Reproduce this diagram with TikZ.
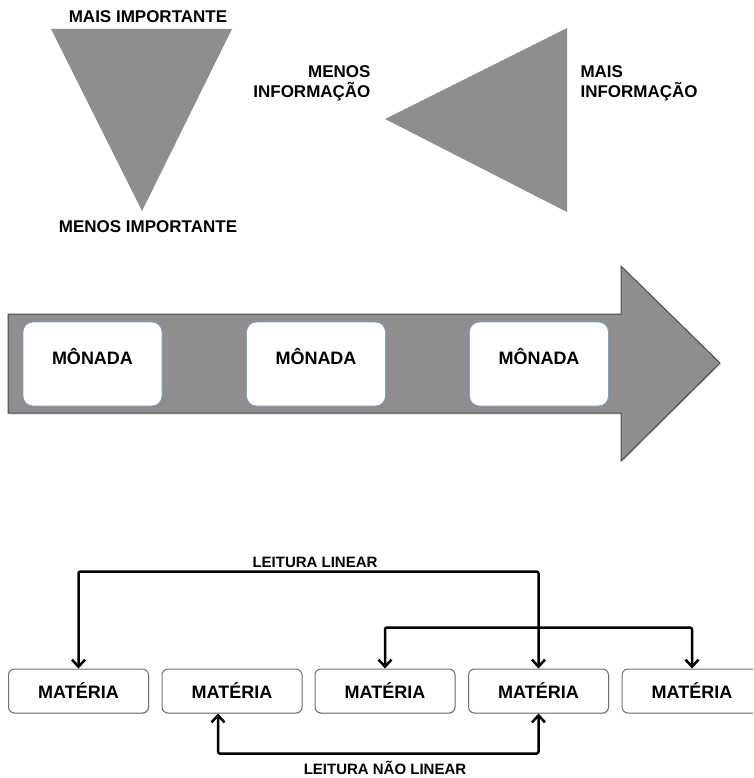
\documentclass[tikz,border=0pt]{standalone}
\usepackage{fontspec}
\setmainfont{Liberation Sans}
\usetikzlibrary{arrows.meta,shadows}

\definecolor{cinzaseta}{HTML}{8E8E8E}
\definecolor{bordaseta}{HTML}{4A4A4A}
\definecolor{bordamonada}{HTML}{7FA4CC}
\definecolor{bordamateria}{HTML}{707070}

\tikzset{
  rotulo/.style={font=\bfseries\fontsize{17}{20}\selectfont, align=center},
  rotulomenor/.style={font=\bfseries\fontsize{15}{18}\selectfont},
  monada/.style={draw=bordamonada, line width=0.8pt, fill=white, rounded corners=10pt,
    minimum width=139pt, minimum height=84pt, text height=13pt, text depth=12pt,
    font=\bfseries\fontsize{18}{20}\selectfont,
    drop shadow={shadow xshift=1pt, shadow yshift=-1.5pt, opacity=0.35}},
  materia/.style={draw=bordamateria, line width=1pt, fill=white, rounded corners=6pt,
    minimum width=140pt, minimum height=44pt, font=\bfseries\fontsize{18}{20}\selectfont,
    drop shadow={shadow xshift=0.8pt, shadow yshift=-1pt, opacity=0.25}},
  conector/.style={line width=2.5pt, rounded corners=2pt, line cap=round}
}

\begin{document}
\begin{tikzpicture}[x=1pt, y=-1pt, >={Straight Barb[length=7pt, width=13pt]}]
    % 1. Limites da figura
    \clip (0,0) rectangle (753,778);

    % 2. Triangulos
    \fill[cinzaseta] (51,29) -- (232,29) -- (142,211) -- cycle;
    \node[rotulo] (maisimp) at (148,17) {MAIS IMPORTANTE};
    \node[rotulo] (menosimp) at (148,227) {MENOS IMPORTANTE};

    \fill[cinzaseta] (385,119) -- (567,28) -- (567,212) -- cycle;
    \node[rotulo, align=right, anchor=east] (menosinf) at (374,83) {MENOS\\INFORMAÇÃO};
    \node[rotulo, align=left, anchor=west] (maisinf) at (577,83) {MAIS\\INFORMAÇÃO};

    % 3. Seta com as monadas
    \draw[fill=cinzaseta, draw=bordaseta, line width=1pt,
          drop shadow={shadow xshift=1pt, shadow yshift=-1.5pt, opacity=0.3}]
        (8,314) -- (621,314) -- (621,266) -- (720,363) -- (621,461) -- (621,413) -- (8,413) -- cycle;
    \node[monada] (mon1) at (92.5,364) {MÔNADA};
    \node[monada] (mon2) at (316,364) {MÔNADA};
    \node[monada] (mon3) at (539,364) {MÔNADA};

    % 4. Materias e leituras
    \node[materia] (m1) at (78.5,691) {MATÉRIA};
    \node[materia] (m2) at (232,691) {MATÉRIA};
    \node[materia] (m3) at (385,691) {MATÉRIA};
    \node[materia] (m4) at (538.5,691) {MATÉRIA};
    \node[materia] (m5) at (692,691) {MATÉRIA};

    \draw[conector, <->] (m1.north) -- ++(0,-97) -| (m4.north);
    \draw[conector, <->] (m3.north) -- ++(0,-41) -| (m5.north);
    \draw[conector, <->] ([xshift=-14pt]m2.south) -- ++(0,40) -| (m4.south);

    \node[rotulomenor] (linear) at (315,562) {LEITURA LINEAR};
    \node[rotulomenor] (naolinear) at (385,768) {LEITURA NÃO LINEAR};
\end{tikzpicture}
\end{document}
